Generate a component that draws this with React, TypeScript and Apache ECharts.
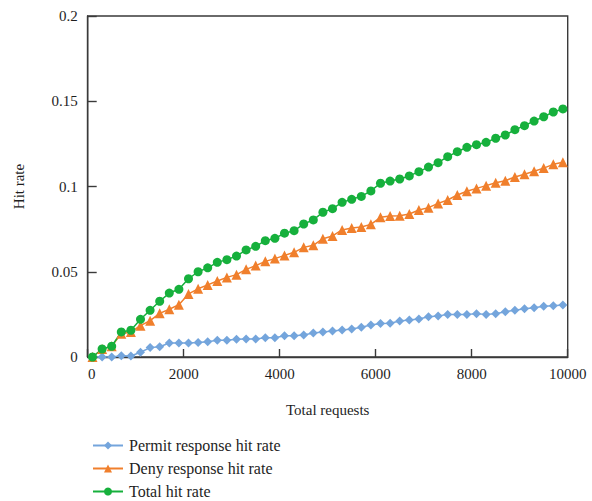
import React, { useEffect, useRef } from "react";
import * as echarts from "echarts";

const requests = [100, 300, 500, 700, 900, 1100, 1300, 1500, 1700, 1900, 2100, 2300, 2500, 2700, 2900, 3100, 3300, 3500, 3700, 3900, 4100, 4300, 4500, 4700, 4900, 5100, 5300, 5500, 5700, 5900, 6100, 6300, 6500, 6700, 6900, 7100, 7300, 7500, 7700, 7900, 8100, 8300, 8500, 8700, 8900, 9100, 9300, 9500, 9700, 9900];

const permitRate = [0, 0, 0, 0.0008, 0.0006, 0.0028, 0.0055, 0.006, 0.0082, 0.0082, 0.0082, 0.0085, 0.009, 0.0098, 0.0098, 0.0104, 0.0106, 0.0106, 0.0113, 0.0113, 0.0125, 0.0125, 0.0129, 0.0141, 0.0147, 0.0152, 0.0158, 0.0164, 0.0174, 0.0188, 0.0196, 0.0198, 0.0211, 0.0217, 0.0223, 0.0236, 0.024, 0.025, 0.025, 0.025, 0.0254, 0.025, 0.0254, 0.0266, 0.0274, 0.0283, 0.0289, 0.0297, 0.0301, 0.0305];

const denyRate = [0, 0.0047, 0.0063, 0.0137, 0.0147, 0.0184, 0.0213, 0.0256, 0.028, 0.0307, 0.037, 0.04, 0.0423, 0.0446, 0.0467, 0.0483, 0.0514, 0.0536, 0.0561, 0.0577, 0.0596, 0.0614, 0.0643, 0.0655, 0.0694, 0.071, 0.0745, 0.0757, 0.0762, 0.0778, 0.0819, 0.0827, 0.0829, 0.0839, 0.0862, 0.0876, 0.0901, 0.0921, 0.095, 0.0972, 0.0989, 0.1005, 0.1022, 0.1034, 0.1056, 0.1072, 0.1089, 0.1108, 0.113, 0.1142];

const totalRate = [0, 0.0047, 0.0063, 0.0147, 0.0157, 0.0221, 0.0274, 0.0327, 0.0375, 0.0397, 0.0459, 0.05, 0.0523, 0.0555, 0.0571, 0.0592, 0.0628, 0.0649, 0.0682, 0.0696, 0.0726, 0.0741, 0.078, 0.0804, 0.0849, 0.087, 0.0907, 0.0925, 0.0942, 0.0974, 0.1019, 0.1032, 0.1044, 0.1062, 0.1087, 0.1114, 0.114, 0.1175, 0.1204, 0.123, 0.1245, 0.1259, 0.1283, 0.1302, 0.1333, 0.1357, 0.1384, 0.1409, 0.1437, 0.1455];

const seriesNames = ["Permit response hit rate", "Deny response hit rate", "Total hit rate"];
const seriesColors = ["#74a5dc", "#f07f2c", "#16b03c"];
const seriesSymbols = ["diamond", "triangle", "circle"];
const seriesSizes = [9, 10, 9];

const FONT = "'Liberation Serif', 'DejaVu Serif', serif";
const AXIS_COLOR = "#3a3a3a";
const TEXT_COLOR = "#1e1e1e";

export default function App() {
  const ref = useRef<HTMLDivElement>(null);
  useEffect(() => {
    if (!ref.current) return;
    const chart = echarts.init(ref.current, undefined, { renderer: "svg" });
    const allData = [permitRate, denyRate, totalRate];
    chart.setOption({
      animation: false,
      backgroundColor: "#ffffff",
      textStyle: { fontFamily: FONT },
      grid: {
        left: 87.7,
        right: 24.3,
        top: 16,
        bottom: 144,
        show: true,
        borderColor: AXIS_COLOR,
        borderWidth: 1.4,
        backgroundColor: "transparent",
      },
      legend: {
        orient: "vertical",
        left: 87,
        top: 432.5,
        height: 70,
        itemWidth: 30,
        itemHeight: 10,
        itemGap: 7,
        data: seriesNames,
        textStyle: {
          fontFamily: FONT,
          fontSize: 16,
          lineHeight: 15.5,
          color: TEXT_COLOR,
          padding: [0, 0, 0, 1],
        },
      },
      xAxis: {
        type: "value",
        min: 0,
        max: 10000,
        interval: 2000,
        name: "Total requests",
        nameLocation: "middle",
        nameGap: 45,
        nameTextStyle: { fontFamily: FONT, fontSize: 15, color: TEXT_COLOR },
        axisLine: { show: true, lineStyle: { color: AXIS_COLOR, width: 1.4 } },
        axisTick: { show: true, inside: true, length: 8, lineStyle: { color: AXIS_COLOR, width: 1.4 } },
        splitLine: { show: false },
        axisLabel: {
          fontFamily: FONT,
          fontSize: 15,
          color: TEXT_COLOR,
          margin: 9,
          formatter: (v: number) => (v === 0 ? "{z|0}" : String(v)),
          rich: { z: { fontFamily: FONT, fontSize: 15, color: TEXT_COLOR, padding: [0, 0, 0, 8] } },
        },
      },
      yAxis: {
        type: "value",
        min: 0,
        max: 0.2,
        interval: 0.05,
        name: "Hit rate",
        nameLocation: "middle",
        nameGap: 61,
        nameRotate: 90,
        nameTextStyle: { fontFamily: FONT, fontSize: 15, color: TEXT_COLOR },
        axisLine: { show: true, lineStyle: { color: AXIS_COLOR, width: 1.4 } },
        axisTick: { show: true, inside: true, length: 9, lineStyle: { color: AXIS_COLOR, width: 1.4 } },
        splitLine: { show: false },
        axisLabel: { fontFamily: FONT, fontSize: 15, color: TEXT_COLOR, margin: 10 },
      },
      series: seriesNames.map((name, i) => ({
        name,
        type: "line",
        data: requests.map((x, j) => [x, allData[i][j]]),
        symbol: seriesSymbols[i],
        symbolSize: seriesSizes[i],
        showAllSymbol: true,
        lineStyle: { color: seriesColors[i], width: 1.5 },
        itemStyle: { color: seriesColors[i] },
      })),
    });
    return () => chart.dispose();
  }, []);
  return <div ref={ref} style={{ width: 592, height: 501, position: "absolute", left: 0, top: 0 }} />;
}
